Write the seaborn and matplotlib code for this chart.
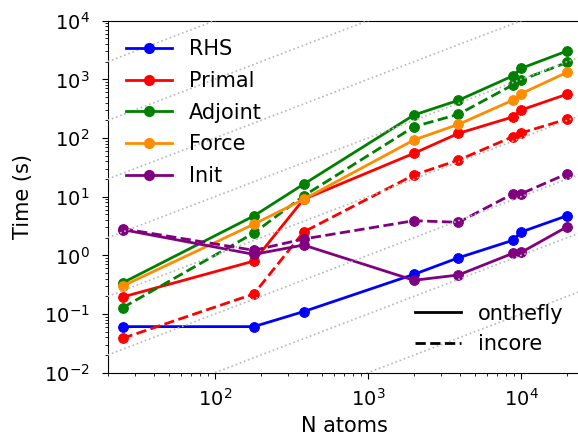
import numpy as np
import pandas as pd
import matplotlib
matplotlib.use("Agg")
import matplotlib.pyplot as plt
from matplotlib.lines import Line2D
import seaborn as sns

# ---- data ----
n_atoms = [25, 180, 380, 2000, 3900, 8800, 10000, 20000]
series_names = ["RHS", "Primal", "Adjoint", "Force", "Init"]
modes = ["onthefly", "incore"]

rhs_onthefly = [0.061, 0.061, 0.11, 0.475, 0.91, 1.8, 2.5, 4.75]
primal_onthefly = [0.195, 0.8, 9.0, 55, 120, 228, 300, 560]
primal_incore = [0.0385, 0.22, 2.5, 23.5, 42, 105, 122, 210]
adjoint_onthefly = [0.34, 4.7, 16.3, 247, 440, 1140, 1540, 3050]
adjoint_incore = [0.128, 2.4, 10.3, 156, 254, 800, 975, 1950]
force_onthefly = [0.30, 3.4, 9.0, 93, 171, 440, 570, 1320]
init_onthefly = [2.75, 1.04, 1.5, 0.376, 0.463, 1.08, 1.12, 3.08]
init_incore = [2.85, 1.22, 1.9, 3.9, 3.66, 11.1, 11.2, 24.7]

ref_coeffs = [1e-5, 1e-4, 1e-3, 1e-2, 1e-1, 1, 10, 100]

colors = {"RHS": "blue", "Primal": "red", "Adjoint": "green",
          "Force": "darkorange", "Init": "purple"}

records = []
for name, mode, vals in [
    ("RHS", "onthefly", rhs_onthefly),
    ("Primal", "onthefly", primal_onthefly),
    ("Primal", "incore", primal_incore),
    ("Adjoint", "onthefly", adjoint_onthefly),
    ("Adjoint", "incore", adjoint_incore),
    ("Force", "onthefly", force_onthefly),
    ("Init", "onthefly", init_onthefly),
    ("Init", "incore", init_incore),
]:
    for n, v in zip(n_atoms, vals):
        records.append({"N": n, "time": v, "series": name, "mode": mode})
df = pd.DataFrame(records)

plt.rcParams["font.size"] = 14
plt.rcParams["font.family"] = ["DejaVu Sans"]

fig = plt.figure(figsize=(5.78, 4.37), dpi=100)
ax = fig.add_axes([107.7 / 578, (437 - 372.7) / 437, (582 - 107.7) / 578, 352 / 437])
ax.set_xscale("log")
ax.set_yscale("log")

sns.lineplot(data=df, x="N", y="time", hue="series", style="mode",
             hue_order=series_names, style_order=modes, palette=colors,
             markers={"onthefly": "o", "incore": "o"},
             dashes={"onthefly": "", "incore": (3.7, 1.6)},
             estimator=None, legend=False, lw=2, markersize=7, ax=ax)
for ln in ax.lines:
    ln.set_markeredgecolor(ln.get_color())
    ln.set_markerfacecolor(ln.get_color())

xlim = (20, 25000)
ylim = (1e-2, 1e4)
xs = np.array(xlim, dtype=float)
for c in ref_coeffs:
    ax.plot(xs, c * xs, ls=":", color="0.72", lw=1.2, zorder=3)
ax.set_xlim(*xlim)
ax.set_ylim(*ylim)

ax.tick_params(which="major", length=4.5)
ax.tick_params(which="minor", length=2.5)
ax.tick_params(axis="x", which="both", pad=6.5)
ax.tick_params(axis="y", which="both", pad=8.5)

ax.set_xlabel("N atoms", fontsize=15, labelpad=4.5)
ax.set_ylabel("Time (s)", fontsize=15, labelpad=8)

h1 = [Line2D([], [], color=colors[s], marker="o", lw=2, ms=7) for s in series_names]
leg1 = ax.legend(h1, series_names, loc="upper left", frameon=False,
                 handlelength=2.2, fontsize=15, labelspacing=0.56)
ax.add_artist(leg1)
h2 = [Line2D([], [], color="k", lw=2), Line2D([], [], color="k", lw=2, ls="--")]
ax.legend(h2, modes, loc="lower right", frameon=False, handlelength=2.2,
          fontsize=15, labelspacing=0.5)

fig.savefig("out.png", dpi=100)
